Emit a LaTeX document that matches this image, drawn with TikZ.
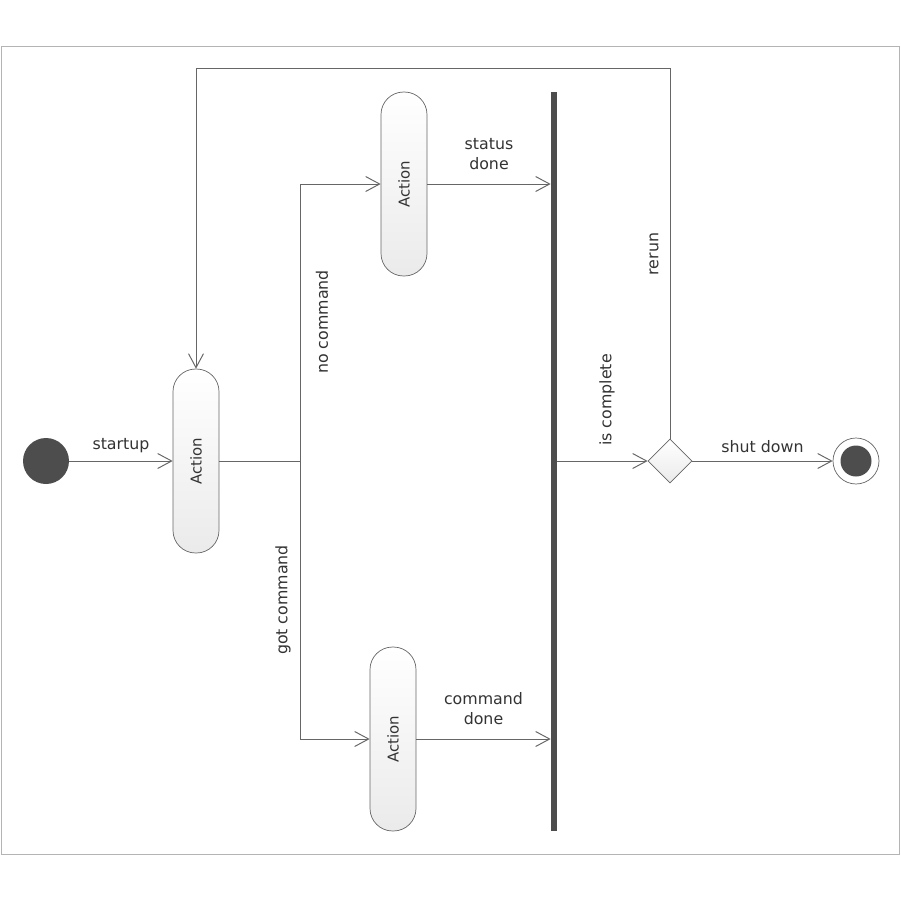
\documentclass[tikz,border=0pt]{standalone}
\usepackage{fontspec}
\setmainfont{DejaVu Sans}
\usetikzlibrary{arrows.meta,shapes.geometric}
\definecolor{umlline}{HTML}{666666}
\definecolor{umldark}{HTML}{4D4D4D}
\definecolor{umlframe}{HTML}{B4B4B4}
\definecolor{umltext}{HTML}{333333}
\tikzset{
  action/.style={draw=umlline, rounded corners=0.45cm, minimum width=0.92cm,
    minimum height=3.68cm, inner sep=0pt, top color=white, bottom color=black!8,
    text=umltext, font=\fontsize{8.5}{9}\selectfont},
  lbl/.style={text=umltext, font=\fontsize{9}{11}\selectfont, inner sep=2pt},
  flow/.style={draw=umlline, line width=0.55pt,
    -{Straight Barb[length=2.8mm,width=3mm,line width=0.55pt]}},
  plain/.style={draw=umlline, line width=0.55pt},
  decision/.style={diamond, aspect=1, draw=umlline, minimum size=0.88cm,
    inner sep=0pt, top color=white, bottom color=black!8},
  initial/.style={circle, fill=umldark, minimum size=0.92cm, inner sep=0pt},
  final/.style={circle, draw=umlline, fill=white, minimum size=0.92cm, inner sep=0pt,
    path picture={\fill[umldark] (path picture bounding box.center) circle (0.31cm);}},
  syncbar/.style={rectangle, fill=umldark, minimum width=0.12cm,
    minimum height=14.78cm, inner sep=0pt}
}
\begin{document}
\begin{tikzpicture}[x=0.02cm,y=-0.02cm]
\useasboundingbox[fill=white] (0,0) rectangle (900,900);
\draw[umlframe] (1,46) rectangle (899,854);
% nodes
\node[initial] (init) at (46,461) {};
\node[action] (a1) at (196,461) {\rotatebox{90}{Action}};
\node[action] (a2) at (404,184) {\rotatebox{90}{Action}};
\node[action] (a3) at (393,739) {\rotatebox{90}{Action}};
\node[syncbar] (bar) at (554,461.5) {};
\node[decision] (dec) at (670,461) {};
\node[final] (final) at (856,461) {};
\coordinate (fork) at (300,461);
\coordinate (looptop) at (670,68);
% connectors
\draw[flow] (init) -- node[lbl, above=2.5pt] (lstartup) {startup} (a1);
\draw[plain] (a1) -- (fork);
\draw[flow] (fork) |- (a2);
\draw[flow] (fork) |- (a3);
\draw[flow] (a2) -- node[lbl, above=6pt, align=center] (lstatus) {status\\done} (bar.west |- a2);
\draw[flow] (a3) -- node[lbl, above=6pt, align=center] (lcommand) {command\\done} (bar.west |- a3);
\draw[flow] (bar.east |- dec) -- (dec);
\draw[flow] (dec) -- node[lbl, above=2.5pt] (lshut) {shut down} (final);
\draw[flow] (dec.north) -- (looptop) -| (a1.north);
% rotated labels
\node[lbl, rotate=90] (lnocmd) at (322,322) {no command};
\node[lbl, rotate=90] (lgotcmd) at (283,600) {got command};
\node[lbl, rotate=90] (lcomplete) at (607,400) {is complete};
\node[lbl, rotate=90] (lrerun) at (654,254) {rerun};
\end{tikzpicture}
\end{document}
